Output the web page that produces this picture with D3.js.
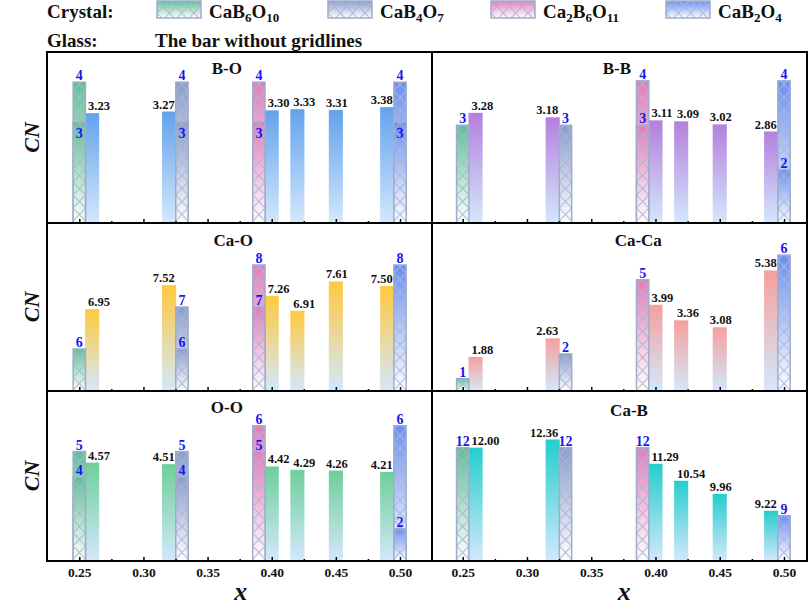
<!DOCTYPE html>
<html>
<head>
<meta charset="utf-8">
<script src="https://cdn.jsdelivr.net/npm/d3@7"></script>
<style>
  body { margin: 0; background: #fff; }
  text { font-family: "Liberation Serif", "Times New Roman", serif; font-weight: bold; }
</style>
</head>
<body>
<div id="chart"></div>
<script>
// ---- data ----
const glassX = [0.26, 0.32, 0.40, 0.42, 0.45, 0.49];
const crystalNames = ["CaB6O10", "CaB4O7", "Ca2B6O11", "CaB2O4"];
const crystalX = [0.25, 0.33, 0.39, 0.50];   // plotted positions
const panelNames = ["B-O", "B-B", "Ca-O", "Ca-Ca", "O-O", "Ca-B"];

// glass CN per panel
const glassBO = [3.23, 3.27, 3.30, 3.33, 3.31, 3.38];
const glassBB = [3.28, 3.18, 3.11, 3.09, 3.02, 2.86];
const glassCaO = [6.95, 7.52, 7.26, 6.91, 7.61, 7.50];
const glassCaCa = [1.88, 2.63, 3.99, 3.36, 3.08, 5.38];
const glassOO = [4.57, 4.51, 4.42, 4.29, 4.26, 4.21];
const glassCaB = [12.00, 12.36, 11.29, 10.54, 9.96, 9.22];

// crystal CN: highest value and (if any) lower value
const crysTopBO = [4, 4, 4, 4],   crysLowBO = [3, 3, 3, 3];
const crysTopBB = [3, 3, 4, 4],   crysLowBB = [null, null, 3, 2];
const crysTopCaO = [6, 7, 8, 8],  crysLowCaO = [null, 6, 7, null];
const crysTopCaCa = [1, 2, 5, 6], crysLowCaCa = [null, null, null, null];
const crysTopOO = [5, 5, 6, 6],   crysLowOO = [4, 4, 5, 2];
const crysTopCaB = [12, 12, 12, 9], crysLowCaB = [null, null, null, null];

const xTicks = [0.25, 0.30, 0.35, 0.40, 0.45, 0.50];
const xMinorTicks = [0.275, 0.325, 0.375, 0.425, 0.475];
const xTickLabels = ["0.25", "0.30", "0.35", "0.40", "0.45", "0.50"];

// ---- styles / layout ----
const W = 810, H = 613;
const crystalColors = ["#5dc193", "#8b9dcb", "#e57cb9", "#6b8ff2"];
const glassColors = ["#64a2ec", "#b47fdd", "#ffc93e", "#f5a09d", "#6dcf99", "#25cdcd"];
const glassBottom = "#d3e8fc";
const colEdge = [[47, 432], [432, 807]];
const colTick = [[79.3, 400], [462.7, 784]];   // pixel of x=0.25 and x=0.50
const rowEdge = [[52, 223], [223, 391], [391, 561]];
const glassAlign = ["start", "end", "start", "start", "middle", "end"];

const panels = [
  { name: panelNames[0], glass: glassBO, top: crysTopBO, low: crysLowBO, col: 0, row: 0, yDomain: [0.5, 4.75], titleX: 0.365, titleDy: 22, lowInside: true },
  { name: panelNames[1], glass: glassBB, top: crysTopBB, low: crysLowBB, col: 1, row: 0, yDomain: [0.8, 4.65], titleX: 0.370, titleDy: 22 },
  { name: panelNames[2], glass: glassCaO, top: crysTopCaO, low: crysLowCaO, col: 0, row: 1, yDomain: [5, 9], titleX: 0.370, titleDy: 23 },
  { name: panelNames[3], glass: glassCaCa, top: crysTopCaCa, low: crysLowCaCa, col: 1, row: 1, yDomain: [0.5, 7.3], titleX: 0.3866, titleDy: 23 },
  { name: panelNames[4], glass: glassOO, top: crysTopOO, low: crysLowOO, col: 0, row: 2, yDomain: [0.75, 7.35], titleX: 0.365, titleDy: 22 },
  { name: panelNames[5], glass: glassCaB, top: crysTopCaB, low: crysLowCaB, col: 1, row: 2, yDomain: [7, 14.5], titleX: 0.3794, titleDy: 24.5 }
];

const svg = d3.select("#chart").append("svg").attr("width", W).attr("height", H);
const defs = svg.append("defs");

function vGrad(id, top, bottom) {
  const lg = defs.append("linearGradient").attr("id", id)
    .attr("x1", 0).attr("y1", 0).attr("x2", 0).attr("y2", 1);
  lg.append("stop").attr("offset", "0%").attr("stop-color", top);
  lg.append("stop").attr("offset", "100%").attr("stop-color", bottom);
}
crystalColors.forEach((c, i) => vGrad("cg" + i, c, "#ffffff"));
glassColors.forEach((c, i) => vGrad("gg" + i, c, glassBottom));

// crystal bar widths (data units)
const crysHalf = 0.0048, glassHalf = 0.0055;
const xRef = d3.scaleLinear().domain([0.25, 0.50]).range(colTick[0]);
const cw = xRef(0.25 + 2 * crysHalf) - xRef(0.25);

const hatch = defs.append("pattern").attr("id", "hatch")
  .attr("patternUnits", "userSpaceOnUse").attr("width", cw).attr("height", 13);
hatch.append("path")
  .attr("d", `M0,0L${cw},13M${cw},0L0,13`)
  .attr("stroke", "#aab6d2").attr("stroke-width", 1).attr("fill", "none");

function crystalRect(g, w, yTop, yBot, gradId) {
  g.append("rect").attr("x", 0).attr("y", yTop).attr("width", w).attr("height", yBot - yTop)
    .attr("fill", `url(#${gradId})`);
  g.append("rect").attr("x", 0).attr("y", yTop).attr("width", w).attr("height", yBot - yTop)
    .attr("fill", "url(#hatch)").attr("stroke", "#9eadcc").attr("stroke-width", 1.5);
}

// ---- panels ----
panels.forEach(p => {
  const g = svg.append("g");
  const x = d3.scaleLinear().domain([0.25, 0.50]).range(colTick[p.col]);
  const y = d3.scaleLinear().domain(p.yDomain).range([rowEdge[p.row][1], rowEdge[p.row][0]]);
  const base = y(p.yDomain[0]);

  // glass bars
  glassX.forEach((gx, i) => {
    const v = p.glass[i];
    const x0 = x(gx - glassHalf), x1 = x(gx + glassHalf);
    g.append("rect").attr("x", x0).attr("y", y(v)).attr("width", x1 - x0).attr("height", base - y(v))
      .attr("fill", `url(#gg${panels.indexOf(p)})`);
    const a = glassAlign[i];
    const tx = a === "start" ? x0 + 3 : a === "end" ? x1 - 1.5 : (x0 + x1) / 2 + 1;
    g.append("text").attr("x", tx).attr("y", y(v) - 3)
      .attr("text-anchor", a).attr("font-size", 12.5).attr("fill", "#111")
      .text(v.toFixed(2));
  });

  // crystal bars
  crystalX.forEach((cx, i) => {
    const x0 = x(cx - crysHalf), x1 = x(cx + crysHalf);
    const cg = g.append("g").attr("transform", `translate(${x0},0)`);
    const top = p.top[i], low = p.low[i];
    crystalRect(cg, x1 - x0, y(top), base, "cg" + i);
    if (low !== null) {
      crystalRect(cg, x1 - x0, y(low), base, "cg" + i);
    }
    g.append("text").attr("x", (x0 + x1) / 2).attr("y", y(top) - 2)
      .attr("text-anchor", "middle").attr("font-size", 14).attr("fill", "#1616ee")
      .text(top);
    if (low !== null) {
      g.append("text").attr("x", (x0 + x1) / 2).attr("y", p.lowInside ? y(low) + 16 : y(low) - 2)
        .attr("text-anchor", "middle").attr("font-size", 14).attr("fill", "#1616ee")
        .text(low);
    }
  });

  // title
  g.append("text").attr("x", x(p.titleX)).attr("y", rowEdge[p.row][0] + p.titleDy)
    .attr("text-anchor", "middle").attr("font-size", 17).attr("fill", "#111")
    .text(p.name);

  // ticks on the bottom edge
  const bottom = p.row === 2;
  const ax = d3.axisBottom(x).tickValues(xTicks).tickSize(-4).tickPadding(6)
    .tickFormat((d, i) => bottom ? xTickLabels[i] : "");
  const axg = g.append("g").attr("transform", `translate(0,${base})`).call(ax);
  axg.select(".domain").remove();
  axg.selectAll("line").attr("stroke", "#000").attr("stroke-width", 1.5);
  axg.selectAll("text").attr("font-size", 13.5).attr("fill", "#111")
    .attr("font-family", '"Liberation Serif", "Times New Roman", serif');
  const mg = g.append("g").attr("transform", `translate(0,${base})`)
    .call(d3.axisBottom(x).tickValues(xMinorTicks).tickSize(-2).tickFormat(""));
  mg.select(".domain").remove();
  mg.selectAll("line").attr("stroke", "#000").attr("stroke-width", 1.5);

  // frame
  g.append("rect")
    .attr("x", colEdge[p.col][0]).attr("y", rowEdge[p.row][0])
    .attr("width", colEdge[p.col][1] - colEdge[p.col][0])
    .attr("height", rowEdge[p.row][1] - rowEdge[p.row][0])
    .attr("fill", "none").attr("stroke", "#000").attr("stroke-width", 2);
});

// ---- axis titles ----
rowEdge.forEach(r => {
  svg.append("text")
    .attr("transform", `translate(39,${(r[0] + r[1]) / 2}) rotate(-90)`)
    .attr("text-anchor", "middle").attr("font-size", 22).attr("font-style", "italic")
    .attr("fill", "#111").text("CN");
});
colTick.forEach(c => {
  svg.append("text").attr("x", (c[0] + c[1]) / 2 + 1).attr("y", 600)
    .attr("text-anchor", "middle").attr("font-size", 26).attr("font-style", "italic")
    .attr("fill", "#111").text("x");
});

// ---- legend ----
const legendX = [157, 328, 491, 666];
svg.append("text").attr("x", 47).attr("y", 18).attr("font-size", 19).attr("fill", "#111").text("Crystal:");
svg.append("text").attr("x", 47).attr("y", 47).attr("font-size", 19).attr("fill", "#111").text("Glass:");
svg.append("text").attr("x", 155).attr("y", 47).attr("font-size", 19).attr("fill", "#111").text("The bar without gridlines");

crystalNames.forEach((name, i) => {
  const lg = svg.append("g").attr("transform", `translate(${legendX[i]},0)`);
  lg.append("rect").attr("x", 0).attr("y", 1).attr("width", 44).attr("height", 17)
    .attr("fill", `url(#cg${i})`);
  lg.append("rect").attr("x", 0).attr("y", 1).attr("width", 44).attr("height", 17)
    .attr("fill", "url(#hatch)").attr("stroke", "#9eadcc").attr("stroke-width", 1.5);
  const t = lg.append("text").attr("x", 52).attr("y", 18).attr("font-size", 19).attr("fill", "#111");
  const parts = name.match(/\d+|\D+/g);
  let sub = false;
  parts.forEach(s => {
    const isNum = /\d/.test(s);
    const ts = t.append("tspan").text(s);
    if (isNum) { ts.attr("font-size", 13).attr("dy", sub ? 0 : 4); sub = true; }
    else { ts.attr("dy", sub ? -4 : 0); sub = false; }
  });
});
</script>
</body>
</html>
